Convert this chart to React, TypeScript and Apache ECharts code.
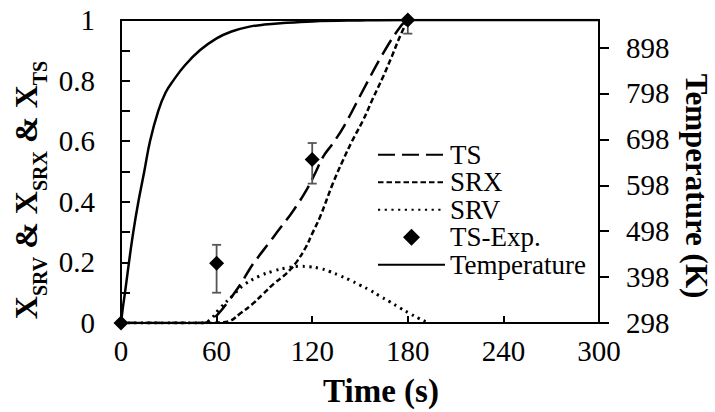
import React, { useEffect, useRef } from "react";
import * as echarts from "echarts";

// Time (s) and fractions for the model curves
const tsTime = [0, 52, 56, 61, 68, 75, 81, 85, 93, 98, 106, 110, 116, 121, 127, 133, 140, 152, 164.5, 176, 180];
const tsValue = [0, 0, 0.008, 0.03, 0.076, 0.128, 0.18, 0.21, 0.265, 0.3, 0.355, 0.385, 0.435, 0.485, 0.55, 0.593, 0.65, 0.769, 0.89, 0.983, 1.0];

const srxTime = [0, 57, 62, 68, 75, 82, 89, 96, 102, 106, 110, 116, 120, 125, 133, 139.4, 145, 152, 158, 164.5, 170, 175, 180];
const srxValue = [0, 0, 0.002, 0.006, 0.032, 0.06, 0.095, 0.13, 0.155, 0.175, 0.2, 0.25, 0.295, 0.351, 0.461, 0.538, 0.6, 0.67, 0.74, 0.813, 0.88, 0.945, 1.0];

const srvTime = [0, 51, 55.8, 62, 70, 77, 87, 96, 104, 112, 118, 125, 131, 137, 143.6, 150, 156, 162, 168.7, 175, 181, 187, 192, 194];
const srvValue = [0, 0, 0.01, 0.048, 0.09, 0.125, 0.155, 0.172, 0.182, 0.187, 0.186, 0.18, 0.17, 0.157, 0.142, 0.125, 0.109, 0.09, 0.07, 0.05, 0.032, 0.015, 0.003, 0];

// Experimental TS points with error bar bounds
const expTime = [0, 60, 120, 180];
const expValue = [0, 0.197, 0.54, 1.0];
const expLow = [0, 0.1, 0.46, 0.955];
const expHigh = [0, 0.258, 0.594, 1.045];

// Furnace temperature (K)
const tempTime = [0, 1.2, 2.5, 5, 7.7, 10.9, 14.6, 18.2, 23.4, 28, 32.8, 40, 49.5, 60, 69.4, 80, 90, 100, 120, 150, 180, 240, 300];
const tempValue = [298, 332, 364, 430, 496, 562, 628, 694, 760, 800, 826, 859, 892, 918, 933, 943, 948, 951, 955, 957, 958, 958, 958];

const xTicks = [0, 60, 120, 180, 240, 300];
const tempTicks = [298, 398, 498, 598, 698, 798, 898];

const FONT = "Liberation Serif";
const DIAMOND = "path://M0,7L7,0L14,7L7,14Z";

const zip = (a: number[], b: number[]) => a.map((v, i) => [v, b[i]]);

// width of a text run, for laying out the subscripted axis title
function textWidth(text: string, size: number, bold: boolean) {
  const ctx = document.createElement("canvas").getContext("2d");
  if (!ctx) return text.length * size * 0.5;
  ctx.font = `${bold ? "bold " : ""}${size}px ${FONT}`;
  return ctx.measureText(text).width;
}

function subscriptTitle() {
  const parts: [string, boolean][] = [
    ["X", false], ["SRV", true], [" & X", false], ["SRX", true], [" & X", false], ["TS", true],
  ];
  const bigSize = 32;
  const subSize = 20;
  const widths = parts.map(([t, sub]) => textWidth(t, sub ? subSize : bigSize, true));
  const total = widths.reduce((a, b) => a + b, 0);
  let cursor = -total / 2;
  const children = parts.map(([t, sub], i) => {
    const el = {
      type: "text",
      x: cursor,
      y: sub ? 14 : 0,
      style: {
        text: t,
        fontFamily: FONT,
        fontWeight: "bold",
        fontSize: sub ? subSize : bigSize,
        fill: "#000",
        align: "left",
        verticalAlign: "middle",
      },
    };
    cursor += widths[i];
    return el;
  });
  return { type: "group", x: 26, y: 190, rotation: Math.PI / 2, children };
}

export default function App() {
  const ref = useRef<HTMLDivElement>(null);

  useEffect(() => {
    document.body.style.margin = "0";
    if (!ref.current) return;
    const chart = echarts.init(ref.current, null, { renderer: "svg" });

    const lineBase = {
      type: "line",
      showSymbol: false,
      symbol: "none",
      smooth: 0.4,
      itemStyle: { color: "#000", opacity: 0 },
    };
    const label = { fontFamily: FONT, fontSize: 29, color: "#000" };

    chart.setOption({
      animation: false,
      grid: { left: 121, right: 116, top: 20, bottom: 89, show: true, borderColor: "#000", borderWidth: 2 },
      legend: {
        orient: "vertical",
        left: 372,
        top: 136,
        itemWidth: 67,
        itemHeight: 17,
        itemGap: 0,
        symbolKeepAspect: true,
        data: ["TS", "SRX", "SRV", { name: "TS-Exp.", icon: DIAMOND }, "Temperature"],
        textStyle: { fontFamily: FONT, fontSize: 27, color: "#000", lineHeight: 27.5 },
      },
      xAxis: {
        type: "value",
        min: 0,
        max: 300,
        interval: 60,
        axisLine: { onZero: false, lineStyle: { color: "#000", width: 2 } },
        axisTick: { inside: true, length: 7, lineStyle: { color: "#000", width: 2 }, customValues: xTicks },
        axisLabel: { ...label, margin: 13, customValues: xTicks },
        splitLine: { show: false },
      },
      yAxis: [
        {
          type: "value",
          min: 0,
          max: 1,
          interval: 0.1,
          axisLine: { show: true, lineStyle: { color: "#000", width: 2 } },
          axisTick: { show: true, inside: true, length: 9, lineStyle: { color: "#000", width: 2 } },
          axisLabel: {
            ...label,
            margin: 26,
            formatter: (v: number) => {
              const k = Math.round(v * 10);
              return k % 2 === 0 ? String(k / 10) : "";
            },
          },
          splitLine: { show: false },
        },
        {
          type: "value",
          position: "right",
          min: 298,
          max: 958,
          axisLine: { show: true, lineStyle: { color: "#000", width: 2 } },
          axisTick: { show: true, inside: false, length: 10, lineStyle: { color: "#000", width: 2 }, customValues: tempTicks },
          axisLabel: { ...label, margin: 27, customValues: tempTicks },
          splitLine: { show: false },
        },
      ],
      graphic: [
        {
          type: "text",
          x: 381,
          y: 391,
          style: { text: "Time (s)", fontFamily: FONT, fontWeight: "bold", fontSize: 33, fill: "#000", align: "center", verticalAlign: "middle" },
        },
        {
          type: "text",
          x: 696,
          y: 186,
          rotation: -Math.PI / 2,
          style: { text: "Temperature (K)", fontFamily: FONT, fontWeight: "bold", fontSize: 31, fill: "#000", align: "center", verticalAlign: "middle" },
        },
        subscriptTitle(),
      ],
      series: [
        {
          ...lineBase,
          name: "TS",
          data: zip(tsTime, tsValue),
          lineStyle: { color: "#000", width: 2.5, type: [17, 7] },
          z: 3,
        },
        {
          ...lineBase,
          name: "SRX",
          data: zip(srxTime, srxValue),
          lineStyle: { color: "#000", width: 2.5, type: [5.5, 3] },
          z: 3,
        },
        {
          ...lineBase,
          name: "SRV",
          data: zip(srvTime, srvValue),
          lineStyle: { color: "#000", width: 3, type: [2.2, 4.5] },
          z: 3,
        },
        {
          type: "custom",
          name: "error",
          clip: true,
          z: 4,
          data: expTime.map((t, i) => [t, expLow[i], expHigh[i]]),
          encode: { x: 0, y: [1, 2] },
          renderItem: (params: any, api: any) => {
            const lo = api.coord([api.value(0), api.value(1)]);
            const hi = api.coord([api.value(0), api.value(2)]);
            const cap = 4.5;
            const style = { stroke: "#555", lineWidth: 1.8 };
            return {
              type: "group",
              children: [
                { type: "line", shape: { x1: lo[0], y1: lo[1], x2: hi[0], y2: hi[1] }, style },
                { type: "line", shape: { x1: lo[0] - cap, y1: lo[1], x2: lo[0] + cap, y2: lo[1] }, style },
                { type: "line", shape: { x1: hi[0] - cap, y1: hi[1], x2: hi[0] + cap, y2: hi[1] }, style },
              ],
            };
          },
        },
        {
          type: "scatter",
          name: "TS-Exp.",
          symbol: "diamond",
          symbolSize: 15,
          itemStyle: { color: "#000", opacity: 1 },
          data: zip(expTime, expValue),
          clip: false,
          z: 5,
        },
        {
          ...lineBase,
          name: "Temperature",
          yAxisIndex: 1,
          data: zip(tempTime, tempValue),
          lineStyle: { color: "#000", width: 2.5, type: "solid" },
          z: 3,
        },
      ],
    });

    return () => chart.dispose();
  }, []);

  return <div ref={ref} style={{ width: 715, height: 412 }} />;
}
